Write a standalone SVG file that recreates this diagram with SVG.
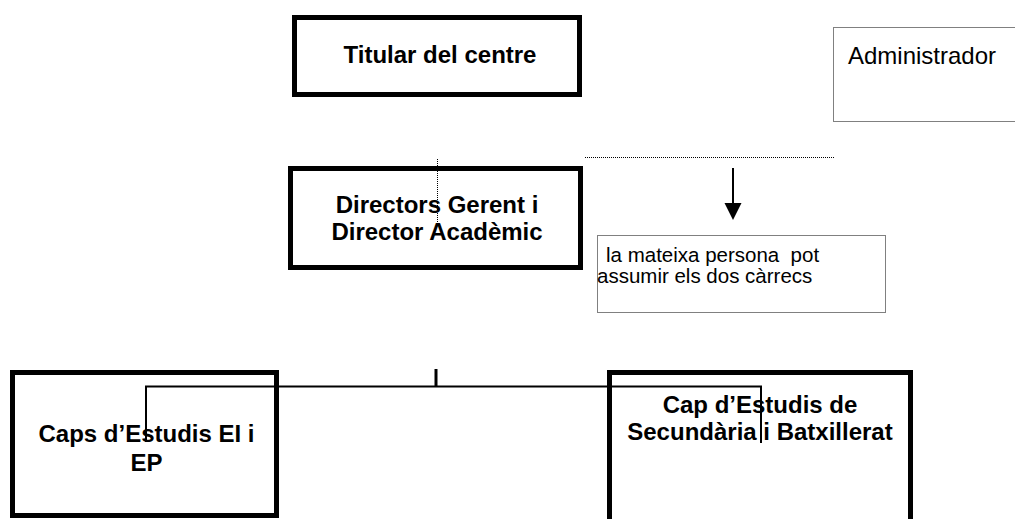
<svg xmlns="http://www.w3.org/2000/svg" width="1015" height="519" viewBox="0 0 1015 519">
<style>
.thick{fill:#fff;stroke:#000;stroke-width:5}
.dot{fill:#fff;stroke:#000;stroke-width:1;stroke-dasharray:1 1}
.dotline{fill:none;stroke:#000;stroke-width:1;stroke-dasharray:1 1}
.b{font-family:"Liberation Sans",Arial,sans-serif;font-weight:bold;font-size:24px;fill:#000;text-anchor:middle}
.r{font-family:"Liberation Sans",Arial,sans-serif;font-size:24px;fill:#000}
.s{font-family:"Liberation Sans",Arial,sans-serif;font-size:20.5px;fill:#000}
.ln{fill:none;stroke:#000;stroke-width:2}
</style>
<rect width="1015" height="519" fill="#fff"/>
<g id="titular">
<rect class="thick" x="294.5" y="17.5" width="285" height="77"/>
<text class="b" x="440" y="63">Titular del centre</text>
</g>
<g id="administrador">
<rect class="dot" x="833.5" y="27.5" width="200" height="94"/>
<text class="r" x="848" y="64">Administrador</text>
</g>
<g id="directors">
<rect class="thick" x="290.5" y="168.5" width="290" height="99"/>
<text class="b" x="437" y="213">Directors Gerent i</text>
<text class="b" x="437" y="240">Director Acadèmic</text>
</g>
<g id="nota">
<rect class="dot" x="597.5" y="235.5" width="288" height="77"/>
<text class="s" x="606" y="262">la mateixa persona&#160; pot</text>
<text class="s" x="597" y="283">assumir els dos càrrecs</text>
</g>
<g id="caps-ei-ep">
<rect class="thick" x="12.5" y="372.5" width="264" height="143"/>
<text class="b" x="146.5" y="442">Caps d’Estudis EI i</text>
<text class="b" x="146.5" y="471">EP</text>
</g>
<g id="cap-secundaria">
<rect class="thick" x="609.5" y="372.5" width="301" height="160"/>
<text class="b" x="760" y="413">Cap d’Estudis de</text>
<text class="b" x="760" y="440">Secundària i Batxillerat</text>
</g>
<g id="connectors">
<line class="dotline" x1="585" y1="157.5" x2="834" y2="157.5"/>
<line class="dotline" x1="437.5" y1="159" x2="437.5" y2="226"/>
<line class="ln" x1="733" y1="168" x2="733" y2="205"/>
<polygon points="724.5,203 741.5,203 733,220" fill="#000"/>
<line x1="436" y1="369" x2="436" y2="386" stroke="#000" stroke-width="3"/>
<polyline class="ln" points="146,442 146,386.5 761,386.5 761,443"/>
</g>
</svg>
